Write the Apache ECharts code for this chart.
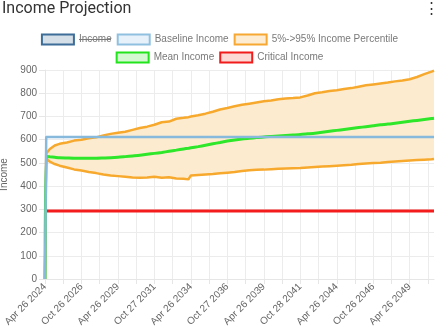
<!DOCTYPE html>
<html>
<head>
<meta charset="utf-8">
<script src="https://cdn.jsdelivr.net/npm/echarts@6/dist/echarts.min.js"></script>
<style>
  html, body { margin: 0; padding: 0; background: #fff; }
  #chart { width: 439px; height: 335px; }
</style>
</head>
<body>
<div id="chart"></div>
<script>
// Monthly projection horizon: 321 months starting Apr 2024
const monthCount = 321;
const tickLabels = ['Apr 26 2024', 'Oct 26 2026', 'Apr 26 2029', 'Oct 27 2031', 'Apr 26 2034',
  'Oct 27 2036', 'Apr 26 2039', 'Oct 28 2041', 'Apr 26 2044', 'Oct 26 2046', 'Apr 26 2049'];

// Months (from start) at which the percentile and mean curves are sampled
const sampleMonths = [0, 1, 4, 8, 12, 18, 24, 30, 36, 42, 48, 54, 60, 66, 72, 78, 84, 90, 96, 102,
  108, 114, 118, 120, 126, 132, 138, 144, 150, 156, 162, 168, 174, 180, 186, 192, 198, 204, 210,
  216, 222, 228, 234, 240, 246, 252, 258, 264, 270, 276, 282, 288, 294, 300, 306, 312, 318, 320];

const upperIncome = [0, 540, 560, 575, 582, 588, 596, 600, 606, 610, 618, 625, 630, 634, 642, 650,
  656, 664, 675, 678, 690, 694, 697, 700, 705, 712, 720, 730, 736, 744, 750, 755, 760, 765, 769,
  774, 777, 779, 782, 790, 800, 804, 810, 813, 818, 822, 828, 834, 838, 842, 846, 851, 855, 860,
  870, 882, 893, 897];

const lowerIncome = [0, 518, 505, 495, 488, 480, 472, 467, 461, 456, 450, 446, 443, 440, 437, 436,
  437, 440, 436, 438, 433, 432, 429, 446, 448, 450, 452, 455, 458, 461, 465, 468, 470, 471, 473,
  475, 476, 477, 478, 480, 482, 484, 486, 488, 490, 492, 495, 497, 499, 501, 504, 506, 508, 510,
  512, 514, 516, 517];

const meanIncome = [0, 528, 526, 524, 522, 521, 520, 520, 520, 520, 521, 522, 524, 527, 530, 533,
  537, 541, 545, 550, 555, 560, 563, 565, 570, 576, 582, 588, 594, 599, 603, 606, 609, 612, 614,
  616, 618, 620, 622, 625, 628, 632, 636, 640, 644, 648, 652, 656, 660, 664, 667, 671, 675, 679,
  683, 687, 691, 692];

const baselineMonths = [0, 1, 320];
const baselineIncome = [0, 612, 612];
const criticalMonths = [1, 320];
const criticalIncome = [293, 293];

const yTicks = { min: 0, max: 900, interval: 100 };

// ---- build series data ----
const categories = Array.from({ length: monthCount }, (_, i) => String(i));
const pairs = (months, values) => months.map((m, i) => [m, values[i]]);
const bandWidth = sampleMonths.map((m, i) => [m, upperIncome[i] - lowerIncome[i]]);

const PCT = '5%->95% Income Percentile';
const FONT = '"Liberation Sans", Arial, sans-serif';

const chart = echarts.init(document.getElementById('chart'), null, { renderer: 'canvas' });

const legendText = { color: '#7a7a7a', fontSize: 10, fontFamily: FONT };

chart.setOption({
  animation: false,
  backgroundColor: '#fff',
  title: {
    text: 'Income Projection',
    left: 2, top: 1, padding: 0,
    textStyle: { fontFamily: 'Roboto, sans-serif', fontWeight: 'normal', fontSize: 16, color: '#333' }
  },
  graphic: [
    { type: 'text', left: 424, top: 1, style: { text: '⋮', fontSize: 15, fill: '#333', fontFamily: FONT } },
    // the hidden "Income" legend entry is shown struck through
    { type: 'line', shape: { x1: 79, y1: 39.5, x2: 111, y2: 39.5 }, style: { stroke: '#7a7a7a', lineWidth: 1 }, z: 100 }
  ],
  legend: [
    {
      top: 33.5, left: 'center', padding: 0, icon: 'rect', itemWidth: 32, itemHeight: 10, itemGap: 5,
      textStyle: legendText,
      data: [
        { name: 'Income', itemStyle: { color: '#d5dfe8', borderColor: '#3d6d98', borderWidth: 2 } },
        { name: 'Baseline Income', itemStyle: { color: '#e7f1f9', borderColor: '#90c0e0', borderWidth: 2 } },
        { name: PCT, itemStyle: { color: '#fdecd2', borderColor: '#f6a832', borderWidth: 2 } }
      ]
    },
    {
      top: 51.5, left: 'center', padding: 0, icon: 'rect', itemWidth: 32, itemHeight: 10, itemGap: 5,
      textStyle: legendText,
      data: [
        { name: 'Mean Income', itemStyle: { color: '#d3f8d2', borderColor: '#22e41c', borderWidth: 2 } },
        { name: 'Critical Income', itemStyle: { color: '#fdd9d5', borderColor: '#f21b1b', borderWidth: 2 } }
      ]
    }
  ],
  grid: { left: 45, right: 5, top: 70, bottom: 56, containLabel: false, outerBoundsMode: 'none' },
  xAxis: {
    type: 'category',
    data: categories,
    boundaryGap: false,
    axisLine: { show: true, lineStyle: { color: '#e6e6e6' } },
    axisTick: { show: true, length: 5, interval: (i) => i % 15 === 0, lineStyle: { color: '#e6e6e6' } },
    splitLine: { show: true, interval: (i) => i % 15 === 0, lineStyle: { color: '#ececec' } },
    axisLabel: {
      interval: (i) => i % 30 === 0,
      rotate: 45, margin: 6,
      color: '#666', fontSize: 10, fontFamily: FONT,
      formatter: (v, i) => tickLabels[i / 30] || ''
    }
  },
  yAxis: {
    type: 'value',
    min: yTicks.min, max: yTicks.max, interval: yTicks.interval,
    name: 'Income', nameLocation: 'middle', nameGap: 33, nameRotate: 90,
    nameTextStyle: { color: '#666', fontSize: 10, fontFamily: FONT },
    axisLine: { show: true, lineStyle: { color: '#e6e6e6' } },
    axisTick: { show: true, length: 6, lineStyle: { color: '#e6e6e6' } },
    splitLine: { show: true, lineStyle: { color: '#ececec' } },
    axisLabel: { color: '#666', fontSize: 10, fontFamily: FONT, margin: 8 }
  },
  series: [
    {
      name: 'Income', type: 'line', data: [], symbol: 'none',
      lineStyle: { color: '#3d6d98', width: 2 }, itemStyle: { color: '#3d6d98' }
    },
    {
      name: 'Baseline Income', type: 'line', data: pairs(baselineMonths, baselineIncome),
      symbol: 'none', z: 6,
      lineStyle: { color: '#86b9dc', width: 2.5 }, itemStyle: { color: '#86b9dc' }
    },
    // percentile band: lower edge (invisible base) + stacked width filled
    {
      name: PCT, type: 'line', stack: 'band', data: pairs(sampleMonths, lowerIncome),
      symbol: 'none', lineStyle: { opacity: 0 }, itemStyle: { color: '#f6a832' }, z: 1
    },
    {
      name: PCT, type: 'line', stack: 'band', data: bandWidth,
      symbol: 'none', lineStyle: { opacity: 0 }, itemStyle: { color: '#f6a832' },
      areaStyle: { color: '#fdebcf', opacity: 1 }, z: 1
    },
    {
      name: PCT, type: 'line', data: pairs(sampleMonths, upperIncome),
      symbol: 'none', z: 4,
      lineStyle: { color: '#f7a92e', width: 2.5 }, itemStyle: { color: '#f6a832' }
    },
    {
      name: PCT, type: 'line', data: pairs(sampleMonths, lowerIncome),
      symbol: 'none', z: 4,
      lineStyle: { color: '#f7a92e', width: 2.5 }, itemStyle: { color: '#f6a832' }
    },
    {
      name: 'Mean Income', type: 'line', data: pairs(sampleMonths, meanIncome),
      symbol: 'none', z: 5, smooth: 0.2,
      lineStyle: { color: '#2ee62a', width: 3 }, itemStyle: { color: '#2ee62a' }
    },
    {
      name: 'Critical Income', type: 'line', data: pairs(criticalMonths, criticalIncome),
      symbol: 'none', z: 3,
      lineStyle: { color: '#f41c1c', width: 3 }, itemStyle: { color: '#f41c1c' }
    }
  ]
});
</script>
</body>
</html>
